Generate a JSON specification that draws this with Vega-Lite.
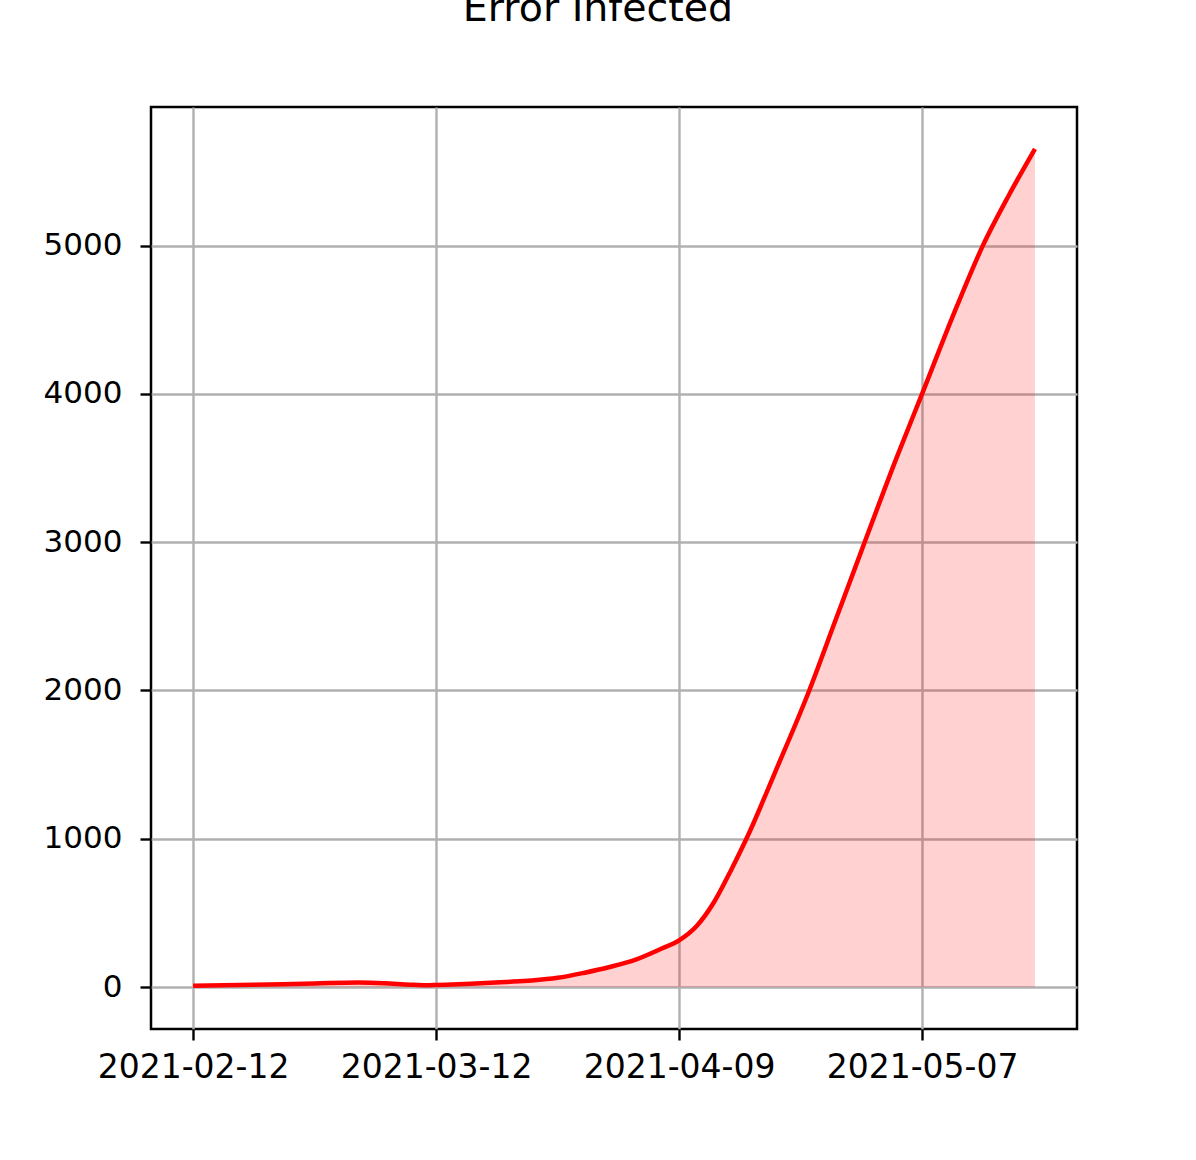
{
  "$schema": "https://vega.github.io/schema/vega-lite/v6.json",
  "autosize": {"type": "none"},
  "width": 926,
  "height": 922,
  "padding": {"left": 151, "top": 107, "right": 119, "bottom": 131},
  "background": "white",
  "title": {
    "text": "Error Infected",
    "font": "DejaVu Sans",
    "fontSize": 39.5,
    "fontWeight": "normal",
    "color": "black",
    "anchor": "middle",
    "baseline": "alphabetic",
    "offset": 47,
    "dx": -16
  },
  "config": {
    "view": {"stroke": "black", "strokeWidth": 2.5},
    "axis": {
      "domain": false,
      "grid": true,
      "gridColor": "#b0b0b0",
      "gridWidth": 2.4,
      "gridOpacity": 1,
      "tickColor": "black",
      "tickWidth": 2.4,
      "tickSize": 11,
      "labelFont": "DejaVu Sans",
      "labelFontSize": 31,
      "labelColor": "black",
      "labelLimit": 400,
      "title": null
    }
  },
  "data": {
    "values": [
      {"date": "2021-02-12T00:00:00", "infected": 8},
      {"date": "2021-02-19T00:00:00", "infected": 15},
      {"date": "2021-02-26T00:00:00", "infected": 24},
      {"date": "2021-03-03T00:00:00", "infected": 30},
      {"date": "2021-03-06T00:00:00", "infected": 26},
      {"date": "2021-03-09T00:00:00", "infected": 16},
      {"date": "2021-03-11T00:00:00", "infected": 12},
      {"date": "2021-03-12T00:00:00", "infected": 14},
      {"date": "2021-03-16T00:00:00", "infected": 22},
      {"date": "2021-03-20T00:00:00", "infected": 34},
      {"date": "2021-03-23T00:00:00", "infected": 44},
      {"date": "2021-03-26T00:00:00", "infected": 62},
      {"date": "2021-03-29T00:00:00", "infected": 95},
      {"date": "2021-04-01T00:00:00", "infected": 135},
      {"date": "2021-04-04T00:00:00", "infected": 185},
      {"date": "2021-04-07T00:00:00", "infected": 260},
      {"date": "2021-04-09T00:00:00", "infected": 315},
      {"date": "2021-04-11T00:00:00", "infected": 410},
      {"date": "2021-04-13T00:00:00", "infected": 570},
      {"date": "2021-04-15T00:00:00", "infected": 790},
      {"date": "2021-04-17T00:00:00", "infected": 1030},
      {"date": "2021-04-20T00:00:00", "infected": 1440},
      {"date": "2021-04-24T00:00:00", "infected": 2000},
      {"date": "2021-04-27T00:00:00", "infected": 2470},
      {"date": "2021-04-30T00:00:00", "infected": 2940},
      {"date": "2021-05-04T00:00:00", "infected": 3560},
      {"date": "2021-05-07T00:00:00", "infected": 4000},
      {"date": "2021-05-11T00:00:00", "infected": 4590},
      {"date": "2021-05-14T00:00:00", "infected": 5000},
      {"date": "2021-05-17T00:00:00", "infected": 5340},
      {"date": "2021-05-20T00:00:00", "infected": 5652}
    ]
  },
  "encoding": {
    "x": {
      "field": "date",
      "type": "temporal",
      "scale": {
        "domain": [
          {"year": 2021, "month": 2, "date": 7, "hours": 3, "minutes": 36},
          {"year": 2021, "month": 5, "date": 24, "hours": 20, "minutes": 24}
        ],
        "nice": false
      },
      "axis": {
        "values": [
          {"year": 2021, "month": 2, "date": 12},
          {"year": 2021, "month": 3, "date": 12},
          {"year": 2021, "month": 4, "date": 9},
          {"year": 2021, "month": 5, "date": 7}
        ],
        "format": "%Y-%m-%d",
        "labelFontSize": 33,
        "labelPadding": 11,
        "labelAngle": 0
      }
    },
    "y": {
      "field": "infected",
      "type": "quantitative",
      "scale": {"domain": [-283, 5935], "nice": false, "zero": false},
      "axis": {
        "values": [0, 1000, 2000, 3000, 4000, 5000],
        "format": "d",
        "labelPadding": 18
      }
    }
  },
  "layer": [
    {
      "mark": {"type": "area", "color": "red", "opacity": 0.18, "interpolate": "monotone"},
      "encoding": {"y2": {"datum": 0}}
    },
    {
      "mark": {"type": "line", "color": "red", "strokeWidth": 4.5, "interpolate": "monotone"},
      "encoding": {}
    }
  ]
}
